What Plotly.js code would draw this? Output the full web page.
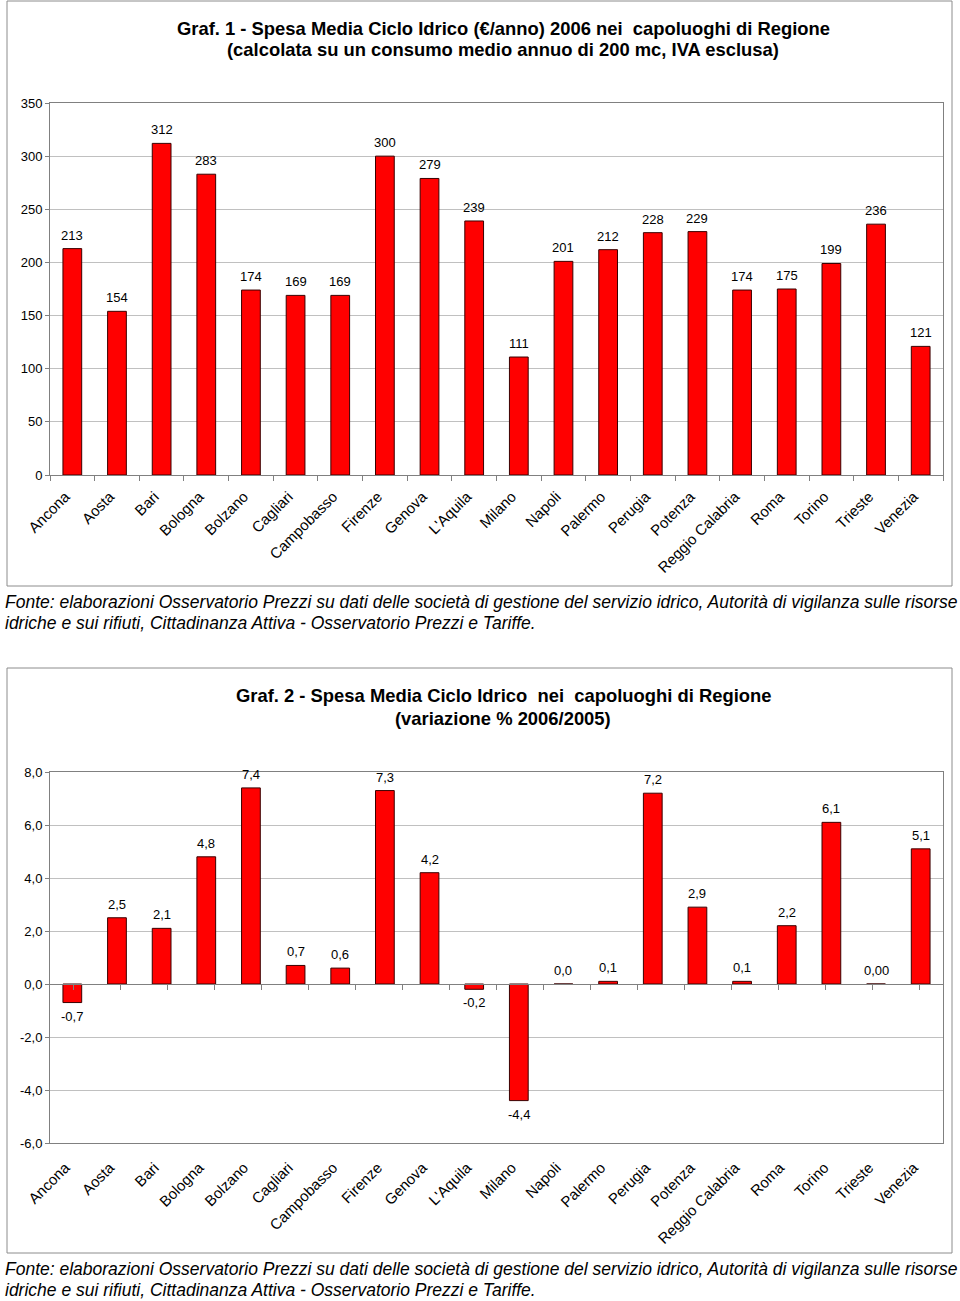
<!DOCTYPE html>
<html>
<head>
<meta charset="utf-8">
<script src="https://cdn.plot.ly/plotly-3.0.1.min.js"></script>
<style>
html,body{margin:0;padding:0;background:#fff;}
#chart{width:960px;height:1301px;}
</style>
</head>
<body>
<div id="chart"></div>
<script>
// ---- DATA ----
const cities = ["Ancona","Aosta","Bari","Bologna","Bolzano","Cagliari","Campobasso","Firenze","Genova","L'Aquila","Milano","Napoli","Palermo","Perugia","Potenza","Reggio Calabria","Roma","Torino","Trieste","Venezia"];
const spesa2006 = [213,154,312,283,174,169,169,300,279,239,111,201,212,228,229,174,175,199,236,121];
const variazione = [-0.7,2.5,2.1,4.8,7.4,0.7,0.6,7.3,4.2,-0.2,-4.4,0.0,0.1,7.2,2.9,0.1,2.2,6.1,0.0,5.1];
const variazioneLabels = ["-0,7","2,5","2,1","4,8","7,4","0,7","0,6","7,3","4,2","-0,2","-4,4","0,0","0,1","7,2","2,9","0,1","2,2","6,1","0,00","5,1"];
const y2TickVals = [-6, -4, -2, 0, 2, 4, 6, 8];
const y2TickText = ["-6,0", "-4,0", "-2,0", "0,0", "2,0", "4,0", "6,0", "8,0"];
const title1a = "Graf. 1 - Spesa Media Ciclo Idrico (€/anno) 2006 nei  capoluoghi di Regione";
const title1b = "(calcolata su un consumo medio annuo di 200 mc, IVA esclusa)";
const title2a = "Graf. 2 - Spesa Media Ciclo Idrico  nei  capoluoghi di Regione";
const title2b = "(variazione % 2006/2005)";
const fonte1 = "Fonte: elaborazioni Osservatorio Prezzi su dati delle società di gestione del servizio idrico, Autorità di vigilanza sulle risorse";
const fonte2 = "idriche e sui rifiuti, Cittadinanza Attiva - Osservatorio Prezzi e Tariffe.";

// ---- LAYOUT HELPERS ----
const W = 960, H = 1301;
const px = x => x / W;
const py = y => 1 - y / H;
const FONT = "Liberation Sans, Arial, sans-serif";
const barStyle = {color: "#ff0000", line: {color: "#3a0000", width: 1}};

const traces = [
  {type: "bar", x: cities, y: spesa2006, xaxis: "x", yaxis: "y", marker: barStyle, width: 0.42, hoverinfo: "x+y"},
  {type: "bar", x: cities, y: variazione, xaxis: "x2", yaxis: "y2", marker: barStyle, width: 0.42, hoverinfo: "x+y"},
  {type: "scatter", mode: "none", x: cities, y: cities.map(() => null), xaxis: "x3", yaxis: "y2", hoverinfo: "skip", showlegend: false}
];

const annotations = [];
cities.forEach((c, i) => {
  annotations.push({xref: "x", yref: "y", x: c, y: spesa2006[i], text: String(spesa2006[i]), showarrow: false,
    yanchor: "bottom", yshift: 4, font: {family: FONT, size: 13, color: "#000"}});
  const v = variazione[i];
  annotations.push({xref: "x2", yref: "y2", x: c, y: v, text: variazioneLabels[i], showarrow: false,
    yanchor: v < 0 ? "top" : "bottom", yshift: v < 0 ? -4 : 4, font: {family: FONT, size: 13, color: "#000"}});
});
const titleFont = {family: FONT, size: 18.4, color: "#000", weight: "bold"};
[[title1a, 28], [title1b, 50], [title2a, 695], [title2b, 718]].forEach(([t, y]) => {
  annotations.push({xref: "paper", yref: "paper", x: px(503), y: py(y), text: "<b>" + t + "</b>", showarrow: false,
    xanchor: "center", yanchor: "middle", font: titleFont});
});
const fonteFont = {family: FONT, size: 17.5, color: "#000"};
[[fonte1, 602], [fonte2, 623], [fonte1, 1269], [fonte2, 1290]].forEach(([t, y]) => {
  annotations.push({xref: "paper", yref: "paper", x: px(3), y: py(y), text: "<i>" + t + "</i>", showarrow: false,
    xanchor: "left", yanchor: "middle", font: fonteFont});
});

const tickFont = {family: FONT, size: 13, color: "#000"};
const catFont = {family: FONT, size: 15, color: "#000"};
const xDomain = [px(50), px(943)];

const layout = {
  width: W, height: H,
  margin: {l: 0, r: 0, t: 0, b: 0},
  paper_bgcolor: "#fff", plot_bgcolor: "#fff",
  showlegend: false,
  separators: ",.",
  bargap: 0.58,
  xaxis: {domain: xDomain, anchor: "y", type: "category", tickangle: -45, tickson: "boundaries",
    ticks: "outside", ticklen: 5, tickcolor: "#808080", showline: true, linecolor: "#808080", mirror: true,
    showgrid: false, tickfont: catFont, ticklabelstandoff: 6, ticklabelshift: -7, fixedrange: true},
  yaxis: {domain: [py(475), py(103)], anchor: "x", range: [0, 350], dtick: 50, tick0: 0, autorange: false,
    showgrid: true, gridcolor: "#c0c0c0", showline: true, linecolor: "#808080", mirror: true,
    ticks: "outside", ticklen: 4, tickcolor: "#808080", zeroline: false, tickfont: tickFont, fixedrange: true},
  xaxis2: {domain: xDomain, anchor: "y2", type: "category", tickangle: -45, ticks: "",
    showline: true, linecolor: "#808080", mirror: true, showgrid: false, tickfont: catFont,
    ticklabelstandoff: 9, ticklabelshift: -7, fixedrange: true},
  xaxis3: {domain: xDomain, anchor: "free", position: py(984), overlaying: "x2", type: "category",
    tickson: "boundaries", ticks: "outside", ticklen: 5, tickcolor: "#808080", showline: true, linecolor: "#808080",
    showticklabels: false, showgrid: false, fixedrange: true},
  yaxis2: {domain: [py(1143), py(772)], anchor: "x2", range: [-6, 8], autorange: false,
    tickmode: "array", tickvals: y2TickVals, ticktext: y2TickText,
    showgrid: true, gridcolor: "#c0c0c0", showline: true, linecolor: "#808080", mirror: true,
    ticks: "outside", ticklen: 4, tickcolor: "#808080", zeroline: false, tickfont: tickFont, fixedrange: true},
  annotations: annotations,
  shapes: [
    {type: "rect", xref: "paper", yref: "paper", x0: px(7), x1: px(952), y0: py(586), y1: py(1), line: {color: "#8c8c8c", width: 1}},
    {type: "rect", xref: "paper", yref: "paper", x0: px(7), x1: px(952), y0: py(1253), y1: py(668), line: {color: "#8c8c8c", width: 1}}
  ]
};

Plotly.newPlot("chart", traces, layout, {displayModeBar: false, staticPlot: true});
</script>
</body>
</html>
